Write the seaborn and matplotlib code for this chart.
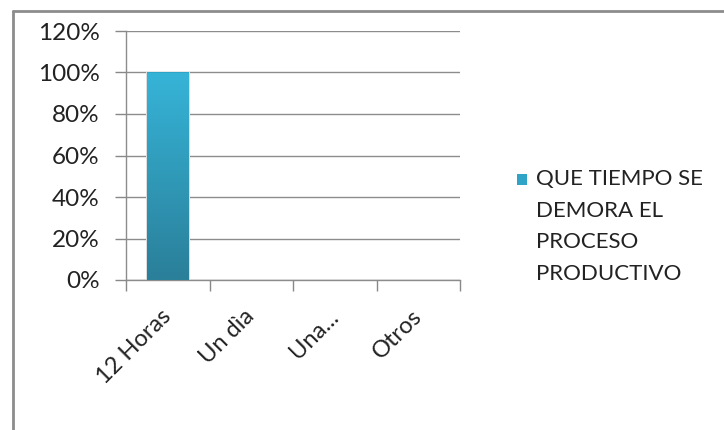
import numpy as np
import pandas as pd
import seaborn as sns
import matplotlib
matplotlib.use("Agg")
import matplotlib.pyplot as plt
from matplotlib.lines import Line2D
from matplotlib.patches import Rectangle

categories = ["12 Horas", "Un dìa", "Una...", "Otros"]
values = [1.0, 0.0, 0.0, 0.0]
series_name = "QUE TIEMPO SE\nDEMORA EL\nPROCESO\nPRODUCTIVO"
yticks = [0.0, 0.2, 0.4, 0.6, 0.8, 1.0, 1.2]
ytick_labels = ["0%", "20%", "40%", "60%", "80%", "100%", "120%"]

sns.set_theme(style="white")
plt.rcParams["font.family"] = ["Lato", "DejaVu Sans"]

W, H = 724, 430
fig = plt.figure(figsize=(W / 100, H / 100), dpi=100)
ax = fig.add_axes([126 / W, 1 - 280 / H, (460 - 126) / W, (280 - 31) / H])

df = pd.DataFrame({"cat": categories, "val": values})
sns.barplot(data=df, x="cat", y="val", ax=ax, color="#30A4C6", width=0.5,
            saturation=1, edgecolor="none", zorder=3)

# vertical gradient fill on the bars
grad = np.linspace(0, 1, 256).reshape(-1, 1)
cmap = matplotlib.colors.LinearSegmentedColormap.from_list(
    "bar", ["#2A7F99", "#36B4D8"])
for p in list(ax.patches):
    if p.get_height() <= 0:
        continue
    x0, y0 = p.get_x(), p.get_y()
    w, h = p.get_width(), p.get_height()
    # soft shadow behind the bar
    ax.add_patch(Rectangle((x0 - 0.015, y0), w + 0.03, h, facecolor="#dddddd",
                           edgecolor="none", zorder=2.5))
    im = ax.imshow(grad, extent=[x0, x0 + w, y0, y0 + h], origin="lower",
                   cmap=cmap, aspect="auto", zorder=3.5)
    im.set_clip_path(p)

ax.set_xlim(-0.5, 3.5)
ax.set_ylim(0, 1.2)
ax.set_yticks(yticks)
ax.set_yticklabels(ytick_labels, fontsize=17.5, color="#222222")
ax.set_xticks(np.arange(-0.5, 4, 1), minor=False)
ax.set_xticklabels([])
ax.set_xticks(range(len(categories)), minor=True)
ax.set_xticklabels(categories, minor=True, rotation=45, ha="right",
                   va="center", rotation_mode="anchor", fontsize=17,
                   color="#222222")
ax.tick_params(axis="x", which="minor", length=0, pad=24)
ax.tick_params(axis="x", which="major", length=8, width=1, color="#888888",
               direction="out", bottom=True)
ax.tick_params(axis="y", length=8, width=1, color="#888888", direction="out",
               left=True, pad=11)
ax.set_xlabel("")
ax.set_ylabel("")
ax.grid(axis="y", color="#8c8c8c", linewidth=1, zorder=0)
ax.set_axisbelow(True)
for s in ["top", "right"]:
    ax.spines[s].set_visible(False)
for s in ["left", "bottom"]:
    ax.spines[s].set_color("#8c8c8c")
    ax.spines[s].set_linewidth(1)
ax.set_facecolor("none")

# legend: colour key beside the first line of the series name
fig.add_artist(Rectangle((517 / W, 1 - 185 / H), 10 / W, 11 / H,
                         transform=fig.transFigure, facecolor="#30A4C6",
                         edgecolor="none"))
fig.text(536 / W, 1 - 169 / H, series_name, ha="left", va="top",
         fontsize=16, color="#222222", linespacing=1.72)

# chart frame
fig.add_artist(Line2D([12.5 / W, 12.5 / W], [0, 1 - 10.5 / H],
                      color="#8c8c8c", linewidth=2))
fig.add_artist(Line2D([12.5 / W, 1], [1 - 10.5 / H, 1 - 10.5 / H],
                      color="#8c8c8c", linewidth=2))

fig.savefig("out.png", dpi=100, facecolor="white")
